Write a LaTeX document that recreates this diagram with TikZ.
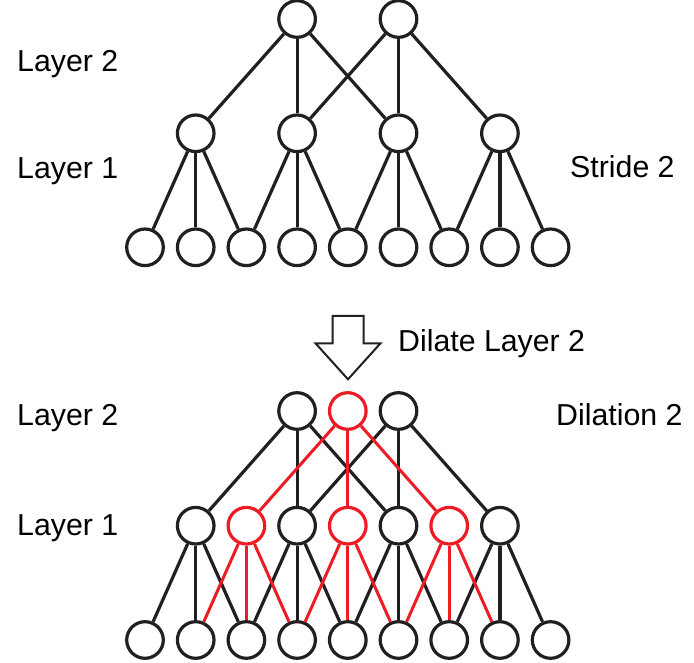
\documentclass[tikz,border=0pt]{standalone}
\usepackage{fontspec}
\setmainfont{Liberation Sans}
\definecolor{myred}{RGB}{237,28,36}
\definecolor{myblack}{RGB}{35,31,32}
\begin{document}
\begin{tikzpicture}[x=1pt,y=-1pt,
  neuron/.style={circle,draw=myblack,line width=3.2pt,minimum size=36.6pt,inner sep=0pt,fill=white},
  rneuron/.style={neuron,draw=myred},
  edge/.style={draw=myblack,line width=3.2pt},
  redge/.style={draw=myred,line width=3.0pt},
  lbl/.style={anchor=base west,inner sep=0pt,font=\fontsize{30.3}{35}\selectfont,text=black}]
\useasboundingbox (0,0) rectangle (694,663);
% ---------- top network ----------
\foreach \i in {0,...,8} \node[neuron] (ti-\i) at ({145+50.7*\i},247.3) {};
\foreach \i in {1,3,5,7} \node[neuron] (t1-\i) at ({145+50.7*\i},133.3) {};
\foreach \i in {3,5} \node[neuron] (t2-\i) at ({145+50.7*\i},19) {};
\foreach \i in {1,3,5,7}{\foreach \d in {-1,0,1}{\pgfmathtruncatemacro\j{\i+\d}\draw[edge] (t1-\i) -- (ti-\j);}}
\foreach \i in {3,5}{\foreach \d in {-2,0,2}{\pgfmathtruncatemacro\j{\i+\d}\draw[edge] (t2-\i) -- (t1-\j);}}
% ---------- bottom network ----------
\foreach \i in {0,...,8} \node[neuron] (bi-\i) at ({145+50.7*\i},640) {};
\foreach \i in {1,3,5,7} \node[neuron] (b1-\i) at ({145+50.7*\i},525.7) {};
\foreach \i in {2,4,6} \node[rneuron] (b1-\i) at ({145+50.7*\i},525.7) {};
\foreach \i in {3,5} \node[neuron] (b2-\i) at ({145+50.7*\i},411) {};
\node[rneuron] (b2-4) at ({145+50.7*4},411) {};
\foreach \i in {1,3,5,7}{\foreach \d in {-1,0,1}{\pgfmathtruncatemacro\j{\i+\d}\draw[edge] (b1-\i) -- (bi-\j);}}
\foreach \i in {3,5}{\foreach \d in {-2,0,2}{\pgfmathtruncatemacro\j{\i+\d}\draw[edge] (b2-\i) -- (b1-\j);}}
\foreach \i in {2,4,6}{\foreach \d in {-1,0,1}{\pgfmathtruncatemacro\j{\i+\d}\draw[redge] (b1-\i) -- (bi-\j);}}
\foreach \d in {-2,0,2}{\pgfmathtruncatemacro\j{4+\d}\draw[redge] (b2-4) -- (b1-\j);}
% ---------- arrow ----------
\draw[myblack,line width=2pt,line join=miter,fill=white]
  (332.5,316) -- (363.5,316) -- (363.5,343.3) -- (380.5,343.3) -- (348,379.3)
  -- (315.5,343.3) -- (332.5,343.3) -- cycle;
% ---------- labels ----------
\node[lbl] (l2a) at (17,72) {Layer 2};
\node[lbl] (l1a) at (17,179) {Layer 1};
\node[lbl] (st) at (570,178) {Stride 2};
\node[lbl] (dl) at (398,352) {Dilate Layer 2};
\node[lbl] (l2b) at (17,425) {Layer 2};
\node[lbl] (l1b) at (17,535) {Layer 1};
\node[lbl] (di) at (556,425) {Dilation 2};
\end{tikzpicture}
\end{document}
